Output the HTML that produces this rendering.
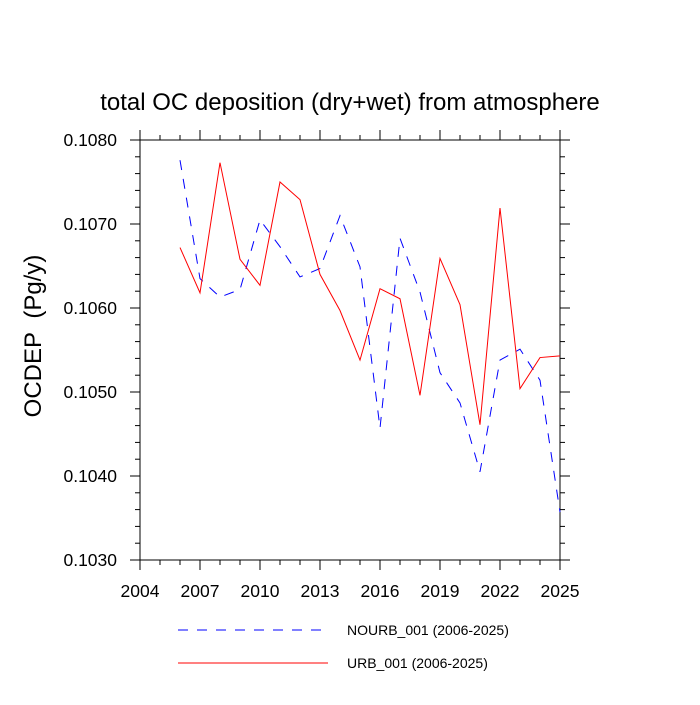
<!DOCTYPE html>
<html><head><meta charset="utf-8"><style>
body{margin:0;background:#fff}
svg text{font-family:"Liberation Sans",sans-serif}
</style></head><body>
<svg id="chart" width="700" height="700" xmlns="http://www.w3.org/2000/svg">
<text x="350" y="110" font-size="24" text-anchor="middle">total OC deposition (dry+wet) from atmosphere</text>
<text transform="translate(41,336) rotate(-90)" font-size="24" text-anchor="middle">OCDEP&#160;&#160;(Pg/y)</text>
<g id="axes"></g>
<g id="series"></g>
<g>
<line x1="178" y1="630" x2="328" y2="630" stroke="#00f" stroke-width="1" stroke-dasharray="10,9"/>
<text x="347" y="635" font-size="14">NOURB_001 (2006-2025)</text>
<line x1="178" y1="663" x2="328" y2="663" stroke="#f00" stroke-width="1"/>
<text x="347" y="668" font-size="14">URB_001 (2006-2025)</text>
</g>
</svg>
<script>
const years=[2006,2007,2008,2009,2010,2011,2012,2013,2014,2015,2016,2017,2018,2019,2020,2021,2022,2023,2024,2025];
const urb=[0.10672,0.10618,0.10773,0.10658,0.10627,0.10750,0.10729,0.10640,0.10597,0.10538,0.10623,0.10611,0.10496,0.10659,0.10604,0.10461,0.10719,0.10504,0.10541,0.10543];
const nourb=[0.10776,0.10635,0.10613,0.10622,0.10705,0.10673,0.10637,0.10647,0.10710,0.10649,0.10457,0.10683,0.10619,0.10523,0.10487,0.10405,0.10538,0.10551,0.10514,0.10357];
const xTicks=[2004,2007,2010,2013,2016,2019,2022,2025];
const yTicks=[0.1030,0.1040,0.1050,0.1060,0.1070,0.1080];
const L=140,R=560,T=140,B=560,x0=2004,x1=2025,y0=0.1030,y1=0.1080;
const X=v=>L+(v-x0)/(x1-x0)*(R-L);
const Y=v=>B-(v-y0)/(y1-y0)*(B-T);
const NS="http://www.w3.org/2000/svg";
const ax=document.getElementById('axes'),se=document.getElementById('series');
function mk(p,tag,at){const e=document.createElementNS(NS,tag);for(const k in at)e.setAttribute(k,at[k]);p.appendChild(e);return e;}
const fr=mk(ax,'rect',{x:L,y:T,width:R-L,height:B-T,fill:'none',stroke:'#000','stroke-width':1});


const tk={stroke:'#000','stroke-width':1};
for(let yr=x0;yr<=x1;yr++){const x=X(yr);const len=xTicks.includes(yr)?10:5;
 mk(ax,'line',Object.assign({x1:x,x2:x,y1:B,y2:B+len},tk));mk(ax,'line',Object.assign({x1:x,x2:x,y1:T,y2:T-len},tk));}
xTicks.forEach(v=>{const t=mk(ax,'text',{x:X(v),y:B+37,'font-size':17.5,'text-anchor':'middle'});t.textContent=v;
 
 });
for(let i=0;i<=25;i++){const v=y0+i*0.0002;const y=Y(v);const len=i%5==0?10:5;
 mk(ax,'line',Object.assign({x1:L,x2:L-len,y1:y,y2:y},tk));mk(ax,'line',Object.assign({x1:R,x2:R+len,y1:y,y2:y},tk));}
yTicks.forEach(v=>{const t=mk(ax,'text',{x:L-23,y:Y(v)+6,'font-size':17.5,'text-anchor':'end'});t.textContent=v.toFixed(4);
 
 });
function line(d,col,dash,name){const p=mk(se,'polyline',{points:d.map((v,i)=>X(years[i])+','+Y(v)).join(' '),fill:'none',stroke:col,'stroke-width':1});
 if(dash)p.setAttribute('stroke-dasharray',dash);
 
 }
line(nourb,'#00f','10,9','nourb-line');
line(urb,'#f00',null,'urb-line');
</script>
</body></html>
